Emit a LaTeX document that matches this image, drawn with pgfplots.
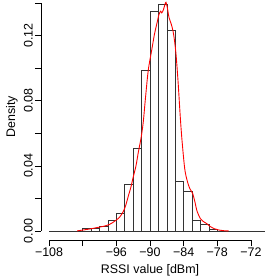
\documentclass[border=0pt]{standalone}
\usepackage{fontspec}
\setmainfont{Liberation Sans}
\usepackage{pgfplots}
\pgfplotsset{compat=1.18}
\begin{document}
\fontsize{12}{14}\selectfont
\begin{tikzpicture}
\begin{axis}[
  at={(0,0)}, anchor=south west,
  scale only axis,
  width=218bp, height=246bp,
  xmin=-109.44, xmax=-70.56,
  ymin=-0.0056, ymax=0.1456,
  clip=false,
  axis lines*=left,
  axis line style={draw=none},
  tick align=outside,
  major tick length=6bp,
  tick style={black, line width=0.6bp},
  xtick={-108,-102,-96,-90,-84,-78,-72},
  xticklabels={−108,,−96,−90,−84,−78,−72},
  ytick={0,0.02,0.04,0.06,0.08,0.10,0.12,0.14},
  yticklabels={0.00,,0.04,,0.08,,0.12,},
  ticklabel style={font=\fontsize{12.5}{14}\selectfont},
  yticklabel style={rotate=90, anchor=south, inner sep=2bp},
  xticklabel style={anchor=north, inner sep=2bp},
  xlabel={RSSI value [dBm]},
  ylabel={Density},
  label style={font=\fontsize{12.5}{14}\selectfont},
  xlabel style={at={(axis description cs:0.5,0)}, anchor=base, yshift=-33.5bp},
]
\draw[black, line width=0.6bp] (axis cs:-108,-0.0056) -- (axis cs:-72,-0.0056);
\draw[black, line width=0.6bp] (axis cs:-109.44,0) -- (axis cs:-109.44,0.14);
\addplot[ybar interval, draw=black!80, fill=none, line width=0.6bp] coordinates {
(-108,0) (-106.5,0) (-105,0) (-103.5,0)
(-102,0.0015) (-100.5,0.0015) (-99,0.003) (-97.5,0.0068) (-96,0.011)
(-94.5,0.0287) (-93,0.0508) (-91.5,0.099) (-90,0.1348) (-88.5,0.1395)
(-87,0.1231) (-85.5,0.0303) (-84,0.0244) (-82.5,0.0068) (-81,0.0041)
(-79.5,0.001) (-78,0) (-76.5,0) (-75,0) (-73.5,0) (-72,0) (-70.5,0) (-69,0)
};
\addplot[red, line width=0.9bp, smooth, tension=0.5] coordinates {
(-103.0,0) (-102.0,0.0005) (-100.7,0.0012) (-99.5,0.002) (-98.3,0.0028)
(-97.2,0.004) (-96.2,0.0062) (-95.4,0.0085) (-94.75,0.012) (-94.3,0.016)
(-93.9,0.021) (-93.4,0.027) (-93.0,0.033) (-92.5,0.040) (-92.1,0.048)
(-91.6,0.057) (-91.2,0.067) (-90.8,0.082) (-90.3,0.099) (-89.7,0.111)
(-89.2,0.121) (-88.8,0.127) (-88.4,0.133) (-88.1,0.135) (-87.9,0.134)
(-87.6,0.136) (-87.35,0.139) (-87.15,0.1405) (-86.9,0.137) (-86.6,0.131)
(-86.2,0.127) (-85.8,0.121) (-85.4,0.11) (-85.0,0.092) (-84.6,0.07)
(-84.3,0.056) (-83.8,0.038) (-83.3,0.03) (-82.9,0.026) (-82.4,0.023)
(-82.0,0.018) (-81.6,0.012) (-81.0,0.0075) (-80.5,0.0058) (-79.9,0.0045)
(-79.3,0.0028) (-78.5,0.0013) (-77.8,0.0006) (-76.8,0.0001) (-76,0)
};
\end{axis}
\pgfresetboundingbox
\path (-41bp,-37bp) rectangle (224bp,240bp);
\end{tikzpicture}
\end{document}
